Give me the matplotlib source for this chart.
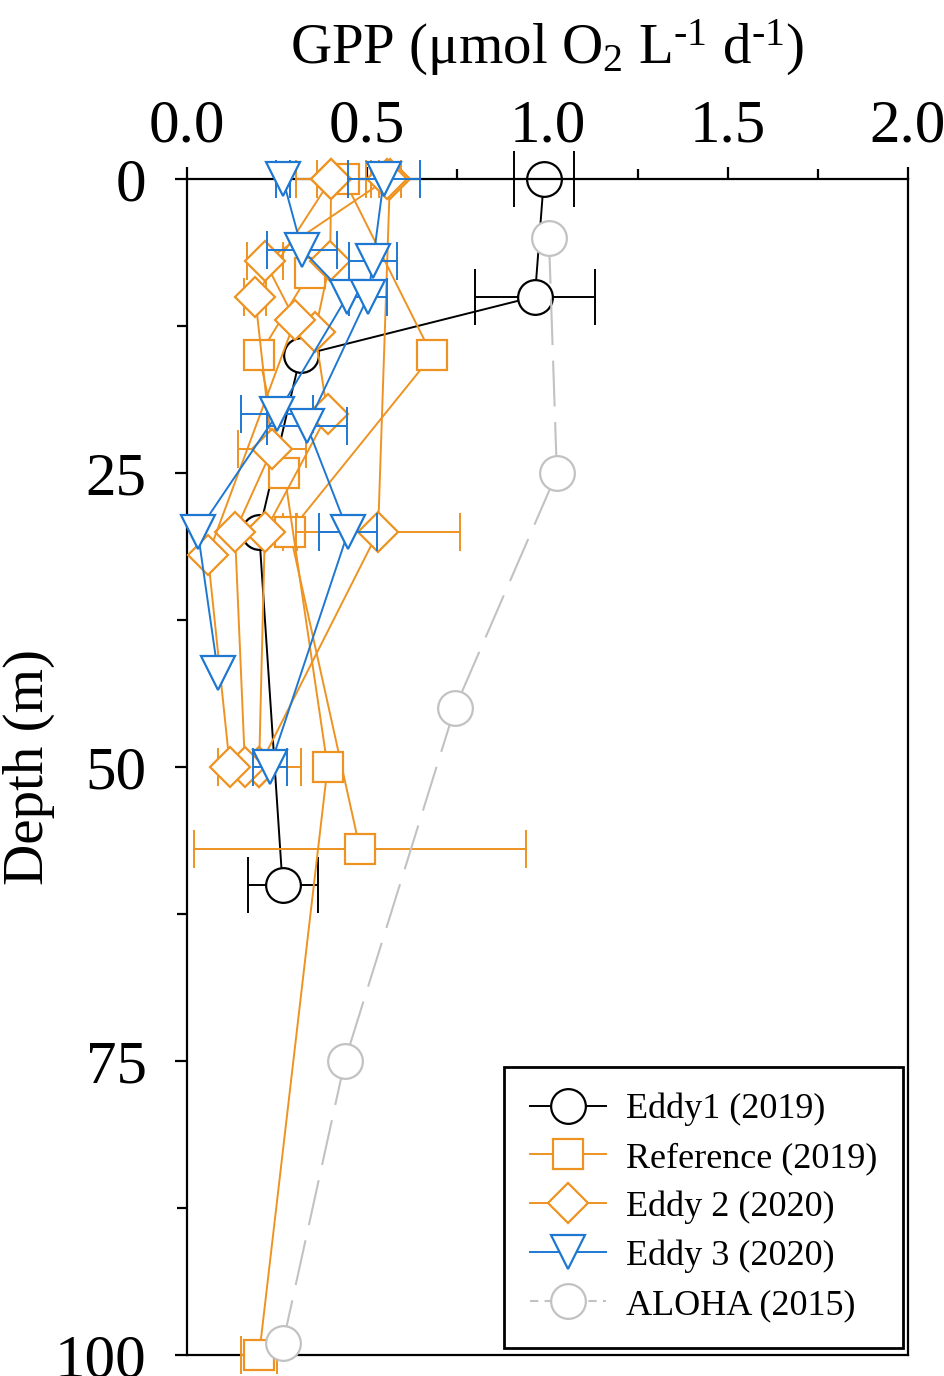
import matplotlib
matplotlib.use('Agg')
import matplotlib.pyplot as plt
from matplotlib.lines import Line2D
from matplotlib.ticker import FormatStrFormatter

plt.rcParams['font.family'] = ['Liberation Serif', 'DejaVu Serif']
plt.rcParams['mathtext.fontset'] = 'custom'
plt.rcParams['mathtext.rm'] = 'Liberation Serif'
plt.rcParams['mathtext.it'] = 'Liberation Serif:italic'

# ---------------- data ----------------
e1_depth = [0, 10, 15, 30, 60]
e1_gpp = [0.99, 0.965, 0.315, 0.20, 0.265]
e1_err = [0.083, 0.166, 0.0, 0.0, 0.097]

ref_a_depth = [0, 15, 30, 57]
ref_a_gpp = [0.435, 0.68, 0.285, 0.48]
ref_a_err = [0.075, 0.0, 0.02, 0.46]
ref_b_depth = [8, 15, 25, 50, 100]
ref_b_gpp = [0.34, 0.20, 0.27, 0.39, 0.20]
ref_b_err = [0.0, 0.0, 0.0, 0.0, 0.05]

e2a_depth = [0, 30, 50]
e2a_gpp = [0.563, 0.53, 0.20]
e2a_err = [0.03, 0.227, 0.115]
e2b_depth = [0, 7, 13, 20, 30, 50]
e2b_gpp = [0.40, 0.397, 0.355, 0.39, 0.216, 0.20]
e2b_err = [0.097, 0.0, 0.0, 0.0, 0.0, 0.0]
e2c_depth = [0, 10, 23, 30, 50]
e2c_gpp = [0.40, 0.189, 0.236, 0.133, 0.161]
e2c_err = [0.0, 0.03, 0.094, 0.0, 0.0]
e2d_depth = [0, 7, 12, 32, 50]
e2d_gpp = [0.555, 0.216, 0.30, 0.058, 0.119]
e2d_err = [0.0, 0.05, 0.0, 0.0, 0.0]

e3a_depth = [0, 6, 10, 20, 30, 42]
e3a_gpp = [0.266, 0.319, 0.444, 0.25, 0.03, 0.086]
e3a_err = [0.02, 0.096, 0.0, 0.1, 0.0, 0.0]
e3b_depth = [0, 7, 10, 21, 30, 50]
e3b_gpp = [0.546, 0.516, 0.502, 0.333, 0.447, 0.23]
e3b_err = [0.1, 0.067, 0.053, 0.11, 0.08, 0.047]

al_depth = [5, 25, 45, 75, 99]
al_gpp = [1.004, 1.026, 0.743, 0.438, 0.266]

labels = ['Eddy1 (2019)', 'Reference (2019)', 'Eddy 2 (2020)', 'Eddy 3 (2020)', 'ALOHA (2015)']

# ---------------- style ----------------
ORANGE = '#EE9322'
BLUE = '#1E78D2'
GRAY = '#C2C2C2'
LW = 1.4
MEW = 1.6

fig = plt.figure(figsize=(9.45, 13.76), dpi=100)
ax = fig.add_axes([187/945, 1-1355/1376, 721/945, 1176/1376])


def profile(x, d, err, color, marker, ms, z, capsize=14, dashes=None):
    xe = [e if e > 0 else float('nan') for e in err]
    eb = ax.errorbar(x, d, xerr=xe, fmt='none', ecolor=color, elinewidth=LW,
                     capsize=capsize, capthick=LW, zorder=z)
    for ch in eb.get_children():
        ch.set_clip_on(False)
    kw = dict(color=color, lw=LW, marker=marker, ms=ms, mfc='white',
              mec=color, mew=MEW, zorder=z + 0.5, clip_on=False)
    if dashes is not None:
        kw['dashes'] = dashes
    ax.plot(x, d, **kw)


profile(e1_gpp, e1_depth, e1_err, 'black', 'o', 25, 2, capsize=20)
profile(ref_a_gpp, ref_a_depth, ref_a_err, ORANGE, 's', 22, 3)
profile(ref_b_gpp, ref_b_depth, ref_b_err, ORANGE, 's', 22, 3)
for gx, gd, ge in [(e2a_gpp, e2a_depth, e2a_err), (e2b_gpp, e2b_depth, e2b_err),
                   (e2c_gpp, e2c_depth, e2c_err), (e2d_gpp, e2d_depth, e2d_err)]:
    profile(gx, gd, ge, ORANGE, 'D', 20, 4)
profile(e3a_gpp, e3a_depth, e3a_err, BLUE, 'v', 24, 5)
profile(e3b_gpp, e3b_depth, e3b_err, BLUE, 'v', 24, 5)
ax.plot(al_gpp, al_depth, color=GRAY, lw=1.5, dashes=(22, 7.5), marker='o', ms=25,
        mfc='white', mec=GRAY, mew=MEW, zorder=6, clip_on=False)

# ---------------- axes ----------------
ax.set_xlim(0, 2)
ax.set_ylim(100, 0)
ax.xaxis.tick_top()
ax.xaxis.set_label_position('top')
ax.set_xticks([0, 0.5, 1.0, 1.5, 2.0])
ax.set_xticks([0.25, 0.75, 1.25, 1.75], minor=True)
ax.set_yticks([0, 25, 50, 75, 100])
ax.set_yticks([12.5, 37.5, 62.5, 87.5], minor=True)
ax.xaxis.set_major_formatter(FormatStrFormatter('%.1f'))
for s in ax.spines.values():
    s.set_linewidth(1.6)
ax.tick_params(which='both', direction='out', width=1.6, labelsize=44)
ax.tick_params(which='major', length=9)
ax.tick_params(which='minor', length=7)
ax.tick_params(axis='x', which='both', bottom=False, top=True, pad=9)
ax.tick_params(axis='y', which='both', right=False, left=True, pad=20)

ax.set_xlabel('GPP (μmol O$_\\mathrm{2}$ L$^{\u2010\\mathrm{1}}$ d$^{\u2010\\mathrm{1}}$)',
              fontsize=41, labelpad=25)
ax.set_ylabel('Depth (m)', fontsize=41, labelpad=0)

# ---------------- legend ----------------
handles = [
    Line2D([], [], color='black', lw=LW, marker='o', ms=25, mfc='white', mec='black', mew=MEW),
    Line2D([], [], color=ORANGE, lw=LW, marker='s', ms=22, mfc='white', mec=ORANGE, mew=MEW),
    Line2D([], [], color=ORANGE, lw=LW, marker='D', ms=20, mfc='white', mec=ORANGE, mew=MEW),
    Line2D([], [], color=BLUE, lw=LW, marker='v', ms=24, mfc='white', mec=BLUE, mew=MEW),
    Line2D([], [], color=GRAY, lw=1.5, dashes=(4, 3), marker='o', ms=25, mfc='white', mec=GRAY, mew=MEW),
]
leg = ax.legend(handles, labels, loc='lower right', bbox_to_anchor=(0.993, 0.006),
                frameon=True, fancybox=False, edgecolor='black', fontsize=26,
                handlelength=2.1, handletextpad=0.55, labelspacing=0.43,
                borderpad=0.72, borderaxespad=0, framealpha=1)
leg.get_frame().set_linewidth(2.0)
leg.set_zorder(10)

fig.savefig('out.png', dpi=100)
